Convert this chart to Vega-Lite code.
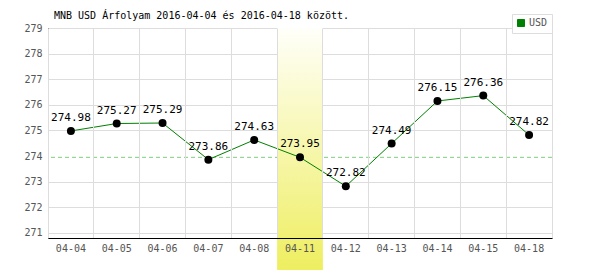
{
  "$schema": "https://vega.github.io/schema/vega-lite/v6.json",
  "width": 504,
  "height": 210,
  "autosize": {"type": "none"},
  "padding": {"left": 48, "top": 28, "right": 48, "bottom": 32},
  "title": {
    "text": "MNB USD Árfolyam 2016-04-04 és 2016-04-18 között.",
    "anchor": "start",
    "frame": "group",
    "offset": 7,
    "dx": 6,
    "dy": 14,
    "font": "DejaVu Sans Mono",
    "fontSize": 10,
    "fontWeight": "normal",
    "color": "#000000"
  },
  "config": {
    "view": {"stroke": "#dddddd"},
    "axis": {
      "labelFont": "DejaVu Sans Mono",
      "labelFontSize": 10,
      "labelColor": "#555555",
      "gridColor": "#dddddd",
      "domainColor": "#000000",
      "ticks": false,
      "title": null,
      "labelOverlap": false
    }
  },
  "datasets": {
    "rates": [
      {"date": "04-04", "rate": 274.98, "series": "USD"},
      {"date": "04-05", "rate": 275.27, "series": "USD"},
      {"date": "04-06", "rate": 275.29, "series": "USD"},
      {"date": "04-07", "rate": 273.86, "series": "USD"},
      {"date": "04-08", "rate": 274.63, "series": "USD"},
      {"date": "04-11", "rate": 273.95, "series": "USD"},
      {"date": "04-12", "rate": 272.82, "series": "USD"},
      {"date": "04-13", "rate": 274.49, "series": "USD"},
      {"date": "04-14", "rate": 276.15, "series": "USD"},
      {"date": "04-15", "rate": 276.36, "series": "USD"},
      {"date": "04-18", "rate": 274.82, "series": "USD"}
    ],
    "highlight": [{"date": "04-11", "top": 279, "bottom": 269.55}],
    "ref": [{"level": 273.95}]
  },
  "layer": [
    {
      "data": {"name": "ref"},
      "mark": {"type": "rule", "stroke": "#ffffff", "strokeWidth": 2.5},
      "encoding": {"y": {"field": "level", "type": "quantitative", "scale": {"domain": [270.8, 279], "nice": false, "zero": false}, "axis": {"values": [271, 272, 273, 274, 275, 276, 277, 278, 279], "tickCount": 9, "labelPadding": 6, "grid": true}}}
    },
    {
      "data": {"name": "ref"},
      "mark": {"type": "rule", "stroke": "#7fcc7f", "strokeDash": [4, 3], "strokeWidth": 1, "opacity": 1},
      "encoding": {"y": {"field": "level", "type": "quantitative"}}
    },
    {
      "data": {"name": "highlight"},
      "mark": {
        "type": "rect",
        "clip": false,
        "fill": {
          "gradient": "linear",
          "x1": 0, "y1": 0, "x2": 0, "y2": 1,
          "stops": [
            {"offset": 0, "color": "#fffffa"},
            {"offset": 1, "color": "#eeee60"}
          ]
        }
      },
      "encoding": {
        "x": {
          "field": "date",
          "type": "ordinal",
          "scale": {"type": "band", "paddingInner": 0, "paddingOuter": 0, "domain": ["04-04", "04-05", "04-06", "04-07", "04-08", "04-11", "04-12", "04-13", "04-14", "04-15", "04-18"]},
          "axis": {"labelAngle": 0, "labelPadding": 5, "grid": true, "bandPosition": 0}
        },
        "y": {"field": "top", "type": "quantitative", "axis": {"values": [271, 272, 273, 274, 275, 276, 277, 278, 279], "tickCount": 9, "labelPadding": 6, "grid": true}},
        "y2": {"field": "bottom"}
      }
    },
    {
      "data": {"name": "rates"},
      "mark": {"type": "line", "strokeWidth": 1},
      "encoding": {
        "x": {"field": "date", "type": "ordinal"},
        "y": {"field": "rate", "type": "quantitative", "axis": {"values": [271, 272, 273, 274, 275, 276, 277, 278, 279], "tickCount": 9, "labelPadding": 6, "grid": true}},
        "color": {
          "field": "series",
          "type": "nominal",
          "scale": {"range": ["#008000"]},
          "legend": {
            "title": null,
            "orient": "none",
            "legendX": 464,
            "legendY": -14,
            "padding": 4,
            "strokeColor": "#dddddd",
            "fillColor": "#ffffff",
            "symbolType": "square",
            "symbolSize": 49,
            "symbolFillColor": "#008000",
            "symbolStrokeColor": "#005500",
            "symbolStrokeWidth": 1,
            "labelFont": "DejaVu Sans Mono",
            "labelFontSize": 10,
            "labelColor": "#555555",
            "labelOffset": 3
          }
        }
      }
    },
    {
      "data": {"name": "rates"},
      "mark": {"type": "point", "filled": true, "color": "#000000", "size": 64, "opacity": 1},
      "encoding": {
        "x": {"field": "date", "type": "ordinal"},
        "y": {"field": "rate", "type": "quantitative"}
      }
    },
    {
      "data": {"name": "rates"},
      "mark": {"type": "text", "font": "DejaVu Sans Mono", "fontSize": 11, "color": "#000000", "dy": -13},
      "encoding": {
        "x": {"field": "date", "type": "ordinal"},
        "y": {"field": "rate", "type": "quantitative"},
        "text": {"field": "rate", "type": "quantitative", "format": ".2f"}
      }
    }
  ],
  "resolve": {"scale": {"x": "shared", "y": "shared"}}
}
